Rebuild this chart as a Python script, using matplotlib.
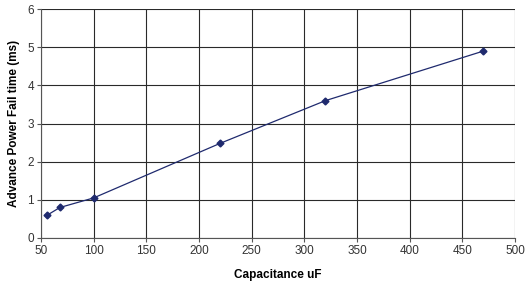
import matplotlib.pyplot as plt

plt.rcParams['font.family'] = ['Liberation Sans', 'DejaVu Sans']

capacitance = [56, 68, 100, 220, 320, 470]
fail_time = [0.6, 0.8, 1.05, 2.48, 3.6, 4.9]

fig = plt.figure(figsize=(5.25, 2.84), dpi=100)
ax = fig.add_axes([0.078, 0.162, 0.903, 0.806])

ax.plot(capacitance, fail_time, color='#1f2a6e', linewidth=0.9,
        marker='D', markersize=3.5, markerfacecolor='#1f2a6e', markeredgecolor='#1f2a6e')

ax.set_xlim(50, 500)
ax.set_ylim(0, 6)
ax.set_xticks(range(50, 501, 50))
ax.set_yticks(range(0, 7))
ax.grid(True, color='#2a2a2a', linewidth=0.8)
ax.set_axisbelow(True)
for s in ['top', 'right']:
    ax.spines[s].set_visible(False)
for s in ['left', 'bottom']:
    ax.spines[s].set_color('#555555')
ax.tick_params(labelsize=8.5, length=3, color='#555555', colors='#333333', pad=2)

ax.set_xlabel('Capacitance uF', fontsize=8.5, fontweight='bold', labelpad=9)
ax.set_ylabel('Advance Power Fail time (ms)', fontsize=8.5, fontweight='bold', labelpad=5)

fig.savefig('out.png', dpi=100)
